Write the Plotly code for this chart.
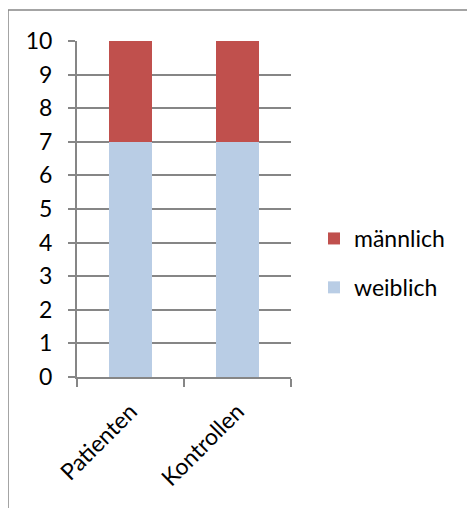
import plotly.graph_objects as go

# Daten
gruppen = ["Patienten", "Kontrollen"]
weiblich = [7, 7]
maennlich = [3, 3]

# Seite hat 8px Rand im Browser -> alles um 8px verschieben
W, H = 475, 508
L, T = 69, 33
pw, ph = 214, 336
R = W - L - pw
B = H - T - ph

grau = "#868686"

fig = go.Figure()
fig.add_trace(go.Bar(x=gruppen, y=weiblich, name="weiblich",
                     marker=dict(color="#B9CDE5", line=dict(width=0)),
                     legendgroup="w", legendrank=2))
fig.add_trace(go.Bar(x=gruppen, y=maennlich, name="männlich",
                     marker=dict(color="#C0504D", line=dict(width=0)),
                     legendgroup="m", legendrank=1))

fig.update_layout(
    width=W, height=H,
    margin=dict(l=L, r=R, t=T, b=B),
    barmode="stack",
    bargap=0.6,
    plot_bgcolor="white", paper_bgcolor="white",
    font=dict(family="Lato, Calibri, sans-serif", size=23, color="black"),
    legend=dict(x=(306 - L) / pw, xanchor="left",
                y=(T + ph - 255) / ph, yanchor="middle",
                traceorder="grouped", tracegroupgap=16,
                font=dict(size=23), itemwidth=30),
    xaxis=dict(showline=True, linecolor=grau, linewidth=2,
               ticks="outside", ticklen=8, tickcolor=grau, tickwidth=2,
               tickson="boundaries", tickangle=-45, showgrid=False,
               ticklabelstandoff=10),
    yaxis=dict(range=[0, 10], dtick=1, showline=True, linecolor=grau, linewidth=2,
               ticks="outside", ticklen=7, tickcolor=grau, tickwidth=2,
               showgrid=True, gridcolor=grau, gridwidth=2, zeroline=False,
               ticklabelstandoff=11),
)

# Rahmen um das Diagramm (links und oben)
fig.add_shape(type="line", xref="paper", yref="paper",
              x0=(0 - L) / pw, x1=(W - L) / pw,
              y0=(T + ph - 2) / ph, y1=(T + ph - 2) / ph,
              line=dict(color=grau, width=1.5))
fig.add_shape(type="line", xref="paper", yref="paper",
              x0=(0 - L) / pw, x1=(0 - L) / pw,
              y0=(T + ph - 2) / ph, y1=-B / ph,
              line=dict(color=grau, width=1.5))

fig.write_html("out.html")
